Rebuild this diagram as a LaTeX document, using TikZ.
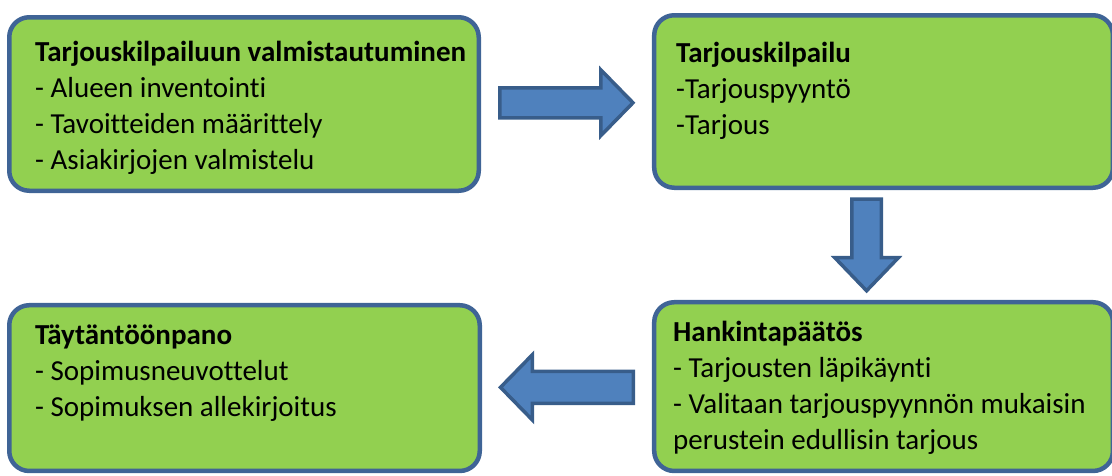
\documentclass[tikz,border=0pt]{standalone}
\usepackage{fontspec}
\setmainfont{Carlito}[Ligatures=NoCommon]
\usepackage{tikz}
\usetikzlibrary{calc}

\definecolor{boxgreen}{HTML}{92D050}
\definecolor{boxline}{HTML}{3F6496}
\definecolor{arrowblue}{HTML}{4F81BD}
\definecolor{arrowline}{HTML}{385D8A}

\begin{document}
\begin{tikzpicture}[x=1pt,y=-1pt,
    stage/.style={draw=boxline,fill=boxgreen,line width=4.5pt,rounded corners=20pt,inner sep=0pt},
    stagetext/.style={anchor=north west,inner sep=0pt,align=left,font=\fontsize{29}{36}\selectfont},
    flow/.style={draw=arrowline,fill=arrowblue,line width=3.5pt,line join=miter}]
  \useasboundingbox (0,0) rectangle (1112,475);
  % the four stages
  \node[stage,minimum width=469.5pt,minimum height=173.5pt] (prep) at (244,104) {};
  \node[stage,minimum width=458.75pt,minimum height=172.5pt] (bid) at (883.6,101.5) {};
  \node[stage,minimum width=458.75pt,minimum height=168.75pt] (decision) at (883.6,386.6) {};
  \node[stage,minimum width=470.5pt,minimum height=165.75pt] (exec) at (244.5,388.1) {};
  \node[stagetext] (prep-text) at ([shift={(28,26)}]prep.north west)
    {\textbf{Tarjouskilpailuun valmistautuminen}\\- Alueen inventointi\\- Tavoitteiden määrittely\\- Asiakirjojen valmistelu};
  \node[stagetext] (bid-text) at ([shift={(24,29)}]bid.north west)
    {\textbf{Tarjouskilpailu}\\-Tarjouspyyntö\\-Tarjous};
  \node[stagetext] (decision-text) at ([shift={(21,21)}]decision.north west)
    {\textbf{Hankintapäätös}\\- Tarjousten läpikäynti\\- Valitaan tarjouspyynnön mukaisin\\perustein edullisin tarjous};
  \node[stagetext] (exec-text) at ([shift={(28,22)}]exec.north west)
    {\textbf{Täytäntöönpano}\\- Sopimusneuvottelut\\- Sopimuksen allekirjoitus};
  % block arrows between the stages
  \coordinate (a1) at ($(prep.east)!0.5!(bid.west)$);
  \coordinate (a2) at ([xshift=-17pt]$(bid.south)!0.5!(decision.north)$);
  \coordinate (a3) at ($(decision.west)!0.5!(exec.east)$);
  \draw[flow] ([shift={(-66.5,-15)}]a1) -- ++(101,0) -- ++(0,-17.75) -- ++(32,32.75)
    -- ++(-32,32.75) -- ++(0,-17.75) -- ++(-101,0) -- cycle;
  \draw[flow] ([shift={(-14.75,-45.75)}]a2) -- ++(0,58.5) -- ++(-17,0) -- ++(31.75,33)
    -- ++(31.75,-33) -- ++(-17,0) -- ++(0,-58.5) -- cycle;
  \draw[flow] ([shift={(66.5,-16)}]a3) -- ++(-101,0) -- ++(0,-16.75) -- ++(-32,32.75)
    -- ++(32,32.75) -- ++(0,-16.75) -- ++(101,0) -- cycle;
\end{tikzpicture}
\end{document}
